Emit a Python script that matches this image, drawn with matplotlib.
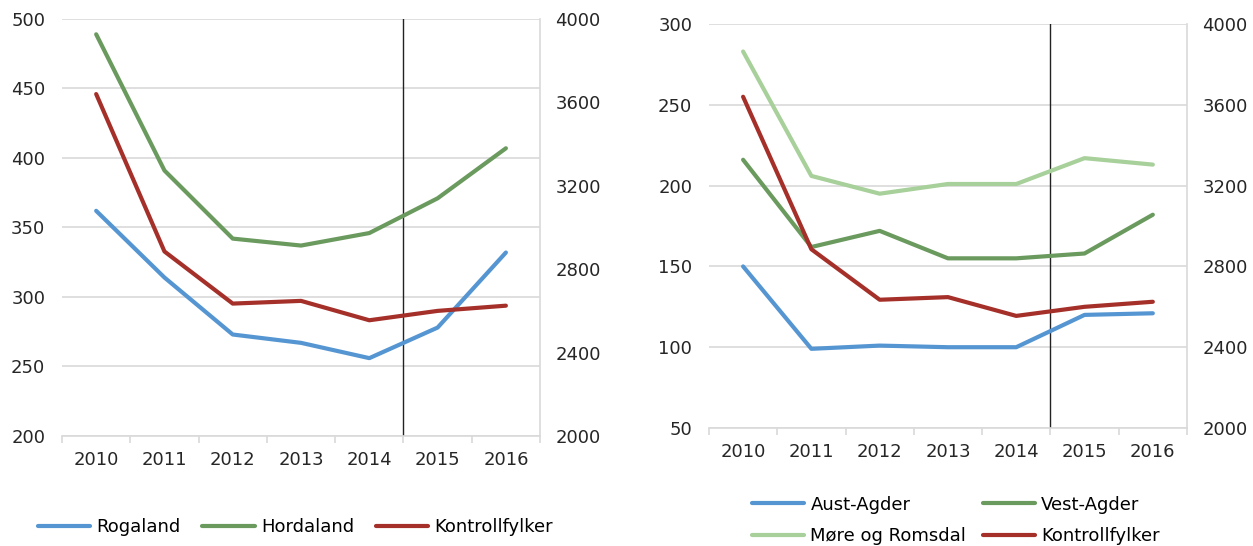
import numpy as np
import matplotlib
matplotlib.use("Agg")
import matplotlib.pyplot as plt
from matplotlib.ticker import FixedLocator, NullFormatter

# -----------------------------
# Data
# -----------------------------
years = ["2010", "2011", "2012", "2013", "2014", "2015", "2016"]

# Left panel (left axis)
rogaland = [362, 314, 273, 267, 256, 278, 332]
hordaland = [489, 391, 342, 337, 346, 371, 407]

# Right panel (left axis)
aust_agder = [150, 99, 101, 100, 100, 120, 121]
vest_agder = [216, 162, 172, 155, 155, 158, 182]
more_romsdal = [283, 206, 195, 201, 201, 217, 213]

# Control counties, plotted on the secondary axis in both panels
kontrollfylker = [3640, 2885, 2635, 2648, 2555, 2600, 2625]

left_ticks_a = [200, 250, 300, 350, 400, 450, 500]
left_ticks_b = [50, 100, 150, 200, 250, 300]
right_ticks = [2000, 2400, 2800, 3200, 3600, 4000]

# -----------------------------
# Style
# -----------------------------
BLUE = "#5596d2"
GREEN = "#6a9a5e"
LIGHT_GREEN = "#a8d09a"
RED = "#a5302a"
GRID = "#d9d9d9"
TEXT = "#262626"
LW = 3.0
FS = 13

plt.rcParams["font.family"] = ["DejaVu Sans"]
plt.rcParams["font.size"] = FS

fig = plt.figure(figsize=(12.53, 5.46), dpi=100)
x = np.arange(len(years))


def setup_panel(rect, ylim, yticks):
    ax = fig.add_axes(rect)
    ax2 = ax.twinx()
    ax.set_xlim(-0.5, len(years) - 0.5)
    ax.set_ylim(*ylim)
    ax.set_yticks(yticks)
    ax.grid(axis="y", color=GRID, linewidth=1.2)
    ax.set_axisbelow(True)

    # category labels at centres, tick marks at category borders
    ax.set_xticks(x)
    ax.set_xticklabels(years, color=TEXT)
    ax.tick_params(axis="x", which="major", length=0, pad=11)
    ax.xaxis.set_minor_locator(FixedLocator(np.arange(-0.5, len(years), 1.0)))
    ax.xaxis.set_minor_formatter(NullFormatter())
    ax.tick_params(axis="x", which="minor", length=5, color=GRID, width=1.2)
    ax.tick_params(axis="y", length=0, pad=12, labelcolor=TEXT)

    for side in ["left", "top"]:
        ax.spines[side].set_visible(False)
        ax2.spines[side].set_visible(False)
    ax.spines["bottom"].set_color(GRID)
    ax.spines["bottom"].set_linewidth(1.2)
    ax.spines["right"].set_visible(False)
    ax2.spines["bottom"].set_visible(False)
    ax2.spines["right"].set_color(GRID)
    ax2.spines["right"].set_linewidth(1.2)

    ax2.set_ylim(2000, 4000)
    ax2.set_yticks(right_ticks)
    ax2.tick_params(axis="y", length=0, pad=11, labelcolor=TEXT)

    # marker between historic years and forecast
    ax.axvline(4.5, color="#222222", linewidth=1.0)
    return ax, ax2


# -----------------------------
# Left panel
# -----------------------------
axL, axL2 = setup_panel([0.0495, 0.2015, 0.3815, 0.7637], (200, 500), left_ticks_a)
h1, = axL.plot(x, rogaland, color=BLUE, lw=LW, solid_capstyle="round", label="Rogaland")
h2, = axL.plot(x, hordaland, color=GREEN, lw=LW, solid_capstyle="round", label="Hordaland")
h3, = axL2.plot(x, kontrollfylker, color=RED, lw=LW, solid_capstyle="round", label="Kontrollfylker")

fig.legend(handles=[h1, h2, h3], loc="center left", bbox_to_anchor=(0.03, 0.035),
           ncol=3, frameon=False, fontsize=FS, handlelength=2.9, handletextpad=0.35,
           columnspacing=1.2, borderpad=0, borderaxespad=0)

# -----------------------------
# Right panel
# -----------------------------
axR, axR2 = setup_panel([0.5658, 0.2161, 0.3815, 0.7399], (50, 300), left_ticks_b)
g1, = axR.plot(x, aust_agder, color=BLUE, lw=LW, solid_capstyle="round", label="Aust-Agder")
g2, = axR.plot(x, vest_agder, color=GREEN, lw=LW, solid_capstyle="round", label="Vest-Agder")
g3, = axR.plot(x, more_romsdal, color=LIGHT_GREEN, lw=LW, solid_capstyle="round", label="Møre og Romsdal")
g4, = axR2.plot(x, kontrollfylker, color=RED, lw=LW, solid_capstyle="round", label="Kontrollfylker")

# legend fills column-wise, so order gives rows: Aust/Vest, Møre/Kontroll
fig.legend(handles=[g1, g3, g2, g4], loc="upper left", bbox_to_anchor=(0.6, 0.092),
           ncol=2, frameon=False, fontsize=FS, handlelength=2.9, handletextpad=0.35,
           columnspacing=0.9, labelspacing=0.75, borderpad=0, borderaxespad=0)

fig.savefig("out.png", dpi=100)
